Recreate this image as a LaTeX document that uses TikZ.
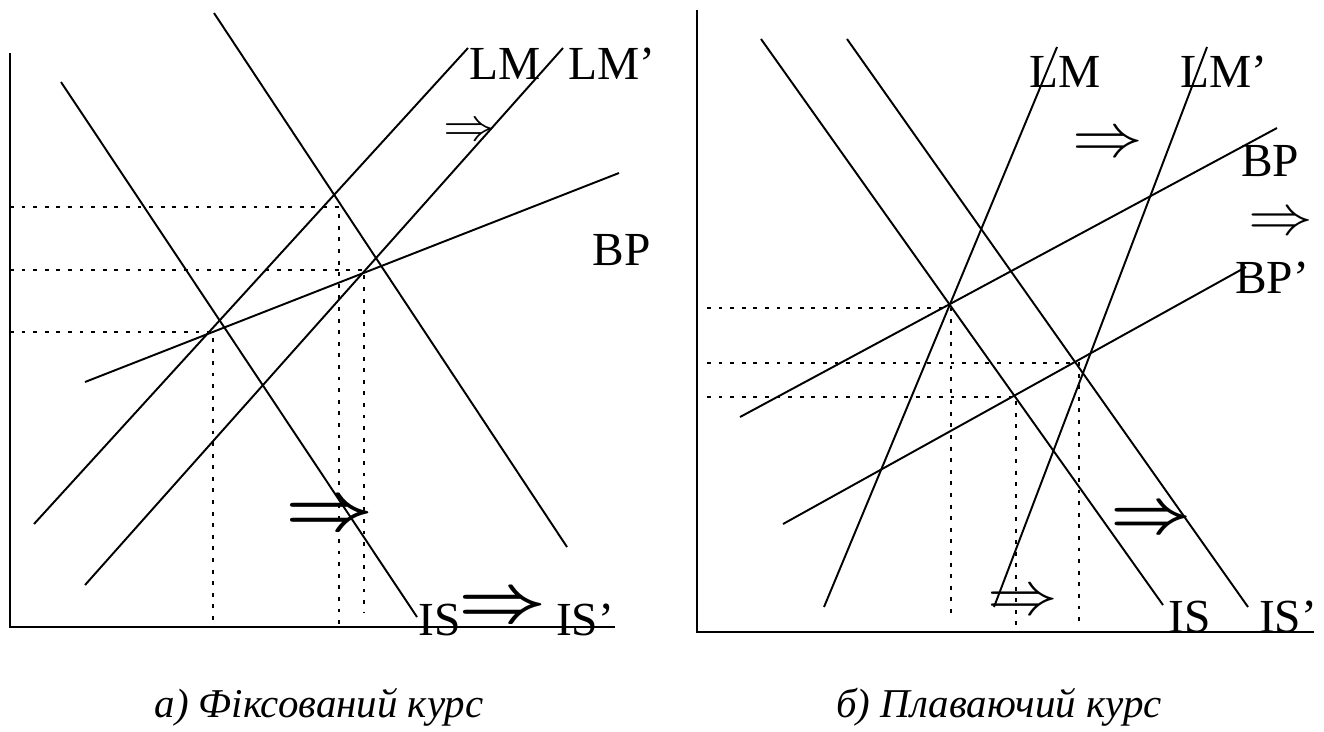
\RequirePackage{fix-cm}
\documentclass[tikz,border=0pt]{standalone}
\usepackage{fontspec}
\setmainfont{Liberation Serif}
\usepackage{tikz}
\usetikzlibrary{positioning}

\newcommand{\shiftsym}{\scalebox{1.15}[1]{$\Rightarrow$}}

\begin{document}
\begin{tikzpicture}[
  x=0.02cm, y=-0.02cm,
  curve/.style={line width=1.1pt},
  axisline/.style={line width=1.6pt},
  guide/.style={line width=1.5pt, dash pattern=on 2.2pt off 4.4pt},
  lbl/.style={font=\fontsize{27}{30}\selectfont, inner sep=0pt},
  shiftarr/.style={font=\fontsize{35}{38}\selectfont, inner sep=0pt},
  boldarr/.style={font=\fontsize{38}{40}\selectfont\boldmath, inner sep=0pt},
  caption/.style={font=\fontsize{23.3}{26}\selectfont\itshape, inner sep=0pt},
]
\useasboundingbox (0,0) rectangle (1324,731);

% a) fixed rate
\draw[axisline] (10,53) |- (615,627);
\draw[guide] (10,207) -| (339,627);
\draw[guide] (10,270) -| (364,613);
\draw[guide] (10,332) -| (213,627);
\draw[curve] (214,13) -- (567,547);
\draw[curve] (61,82) -- (417,617);
\draw[curve] (34,524) -- (468,48);
\draw[curve] (85,585) -- (563,48);
\draw[curve] (85,382) -- (619,173);

\node[lbl] (lmA) at (505,64) {LM};
\node[lbl] (lmpA) at (612,64) {LM’};
\node[lbl] (bpA) at (622,250) {BP};
\node[lbl] (isA) at (440,620) {IS};
\node[lbl] (ispA) at (585,620) {IS’};
\node[shiftarr, font=\fontsize{26}{28}\selectfont] (arA1) at (470,132) {\shiftsym};
\node[boldarr] (arA2) at (330,516) {\shiftsym};
\node[boldarr] (arA3) at (503,608) {\shiftsym};

% b) floating rate
\draw[axisline] (697,10) |- (1314,632);
\draw[guide] (707,308) -| (951,620);
\draw[guide] (707,363) -| (1079,628);
\draw[guide] (707,397) -| (1016,628);
\draw[curve] (761,39) -- (1163,605);
\draw[curve] (847,39) -- (1248,607);
\draw[curve] (1057,47) -- (824,607);
\draw[curve] (1207,47) -- (994,607);
\draw[curve] (740,417) -- (1277,128);
\draw[curve] (783,524) -- (1246,267);

\node[lbl] (lmB) at (1065,72) {LM};
\node[lbl] (lmpB) at (1224,72) {LM’};
\node[lbl] (bpB) at (1270,161) {BP};
\node[lbl] (bppB) at (1272,278) {BP’};
\node[shiftarr, font=\fontsize{32}{34}\selectfont] (arB2) at (1281,224) {\shiftsym};
\node[lbl] (isB) at (1190,617) {IS};
\node[lbl] (ispB) at (1288,617) {IS’};
\node[shiftarr] (arB1) at (1108,145) {\shiftsym};
\node[shiftarr, font=\fontsize{35}{38}\selectfont\boldmath] (arB3) at (1151,520) {\shiftsym};
\node[shiftarr] (arB4) at (1023,603) {\shiftsym};

\node[caption] (capA) at (319,707) {а) Фіксований курс};
\node[caption] (capB) at (999,707) {б) Плаваючий курс};
\end{tikzpicture}
\end{document}
